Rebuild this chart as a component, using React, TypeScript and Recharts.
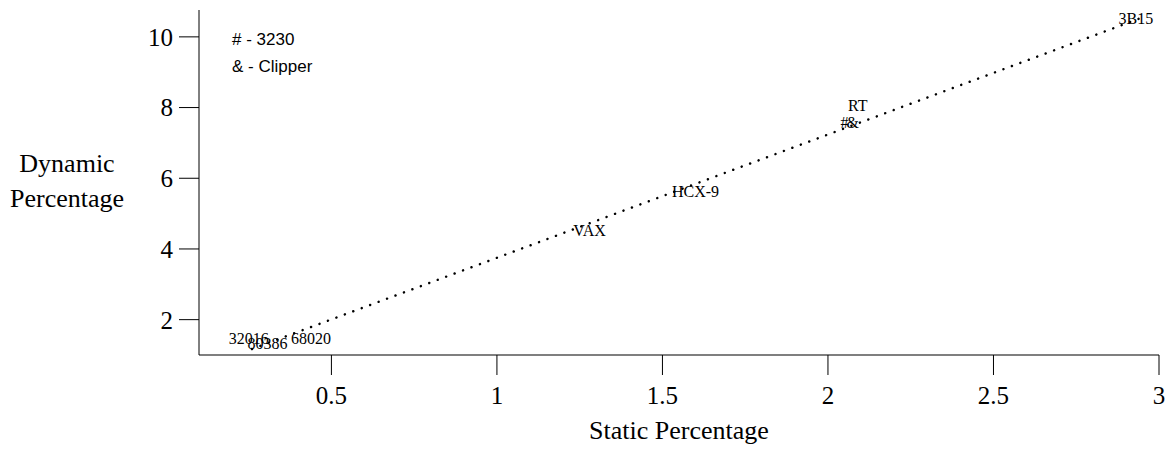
import {
  ComposedChart,
  Scatter,
  XAxis,
  YAxis,
} from "recharts";

const machineNames = ["32016", "80386", "68020", "VAX", "HCX-9", "RT", "#", "&", "3B15"];
const staticPct = [0.25, 0.307, 0.438, 1.28, 1.6, 2.09, 2.05, 2.075, 2.93];
const dynamicPct = [1.47, 1.34, 1.47, 4.53, 5.63, 8.06, 7.58, 7.58, 10.52];

const fitStatic = [0.26, 2.95];
const fitDynamic = [1.17, 10.55];

const xTicks = [0.5, 1, 1.5, 2, 2.5, 3];
const yTicks = [2, 4, 6, 8, 10];

const legendLines = ["# - 3230", "& - Clipper"];

const points = machineNames.map((name, i) => ({
  name,
  x: staticPct[i],
  y: dynamicPct[i],
}));

const fitLine = fitStatic.map((x, i) => ({ x, y: fitDynamic[i] }));

const serif = '"Liberation Serif", "Times New Roman", serif';

const NameMark = (props: any) => {
  const { cx, cy, payload } = props;
  return (
    <text
      x={cx}
      y={cy}
      dy="0.35em"
      textAnchor="middle"
      fontFamily={serif}
      fontSize={16}
      fill="#000"
    >
      {payload.name}
    </text>
  );
};

const YLabel = () => {
  const cx = 67;
  return (
    <text x={cx} y={172} textAnchor="middle" fontFamily={serif} fontSize={26} fill="#000">
      <tspan x={cx}>Dynamic</tspan>
      <tspan x={cx} dy={35}>Percentage</tspan>
    </text>
  );
};

export default function App() {
  return (
    <div style={{ position: "absolute", left: 0, top: 0, width: 1172, height: 449, background: "#fff" }}>
      <ComposedChart
        width={1172}
        height={449}
        margin={{ top: 10, right: 13, bottom: 0, left: 0 }}
      >
        <XAxis
          xAxisId="main"
          type="number"
          dataKey="x"
          domain={[0.1, 3]}
          ticks={xTicks}
          allowDataOverflow
          height={94}
          tickSize={20}
          tickMargin={11}
          axisLine={{ stroke: "#555", strokeWidth: 1.5 }}
          tickLine={{ stroke: "#000" }}
          tick={{ fontFamily: serif, fontSize: 25, fill: "#000" }}
          label={{
            value: "Static Percentage",
            position: "insideBottom",
            offset: 10,
            style: { fontFamily: serif, fontSize: 26, fill: "#000" },
          }}
        />
        <XAxis
          xAxisId="top"
          orientation="top"
          type="number"
          dataKey="x"
          domain={[0.1, 3]}
          height={0}
          tick={false}
          tickLine={false}
          axisLine={{ stroke: "#333", strokeWidth: 1.5 }}
        />
        <YAxis
          yAxisId="main"
          type="number"
          dataKey="y"
          domain={[1, 10.76]}
          ticks={yTicks}
          allowDataOverflow
          width={199}
          tickSize={20}
          tickMargin={6}
          axisLine={{ stroke: "#000" }}
          tickLine={{ stroke: "#000" }}
          tick={{ fontFamily: serif, fontSize: 25, fill: "#000" }}
          label={<YLabel />}
        />
        <YAxis
          yAxisId="right"
          orientation="right"
          type="number"
          dataKey="y"
          domain={[1, 10.76]}
          width={0}
          tick={false}
          tickLine={false}
          axisLine={{ stroke: "#000", strokeWidth: 1.5 }}
        />
        <Scatter
          xAxisId="main"
          yAxisId="main"
          data={fitLine}
          line={{
            stroke: "#000",
            strokeWidth: 2.5,
            strokeDasharray: "0.01 9",
            strokeLinecap: "round",
          }}
          shape={() => <g />}
          isAnimationActive={false}
        />
        <Scatter
          xAxisId="main"
          yAxisId="main"
          data={points}
          shape={<NameMark />}
          isAnimationActive={false}
        />
      </ComposedChart>
      <div
        style={{
          position: "absolute",
          left: 232,
          top: 26,
          fontFamily: '"Liberation Sans", Arial, sans-serif',
          fontSize: 17,
          lineHeight: "27px",
          color: "#000",
        }}
      >
        {legendLines.map((t) => (
          <div key={t}>{t}</div>
        ))}
      </div>
    </div>
  );
}
